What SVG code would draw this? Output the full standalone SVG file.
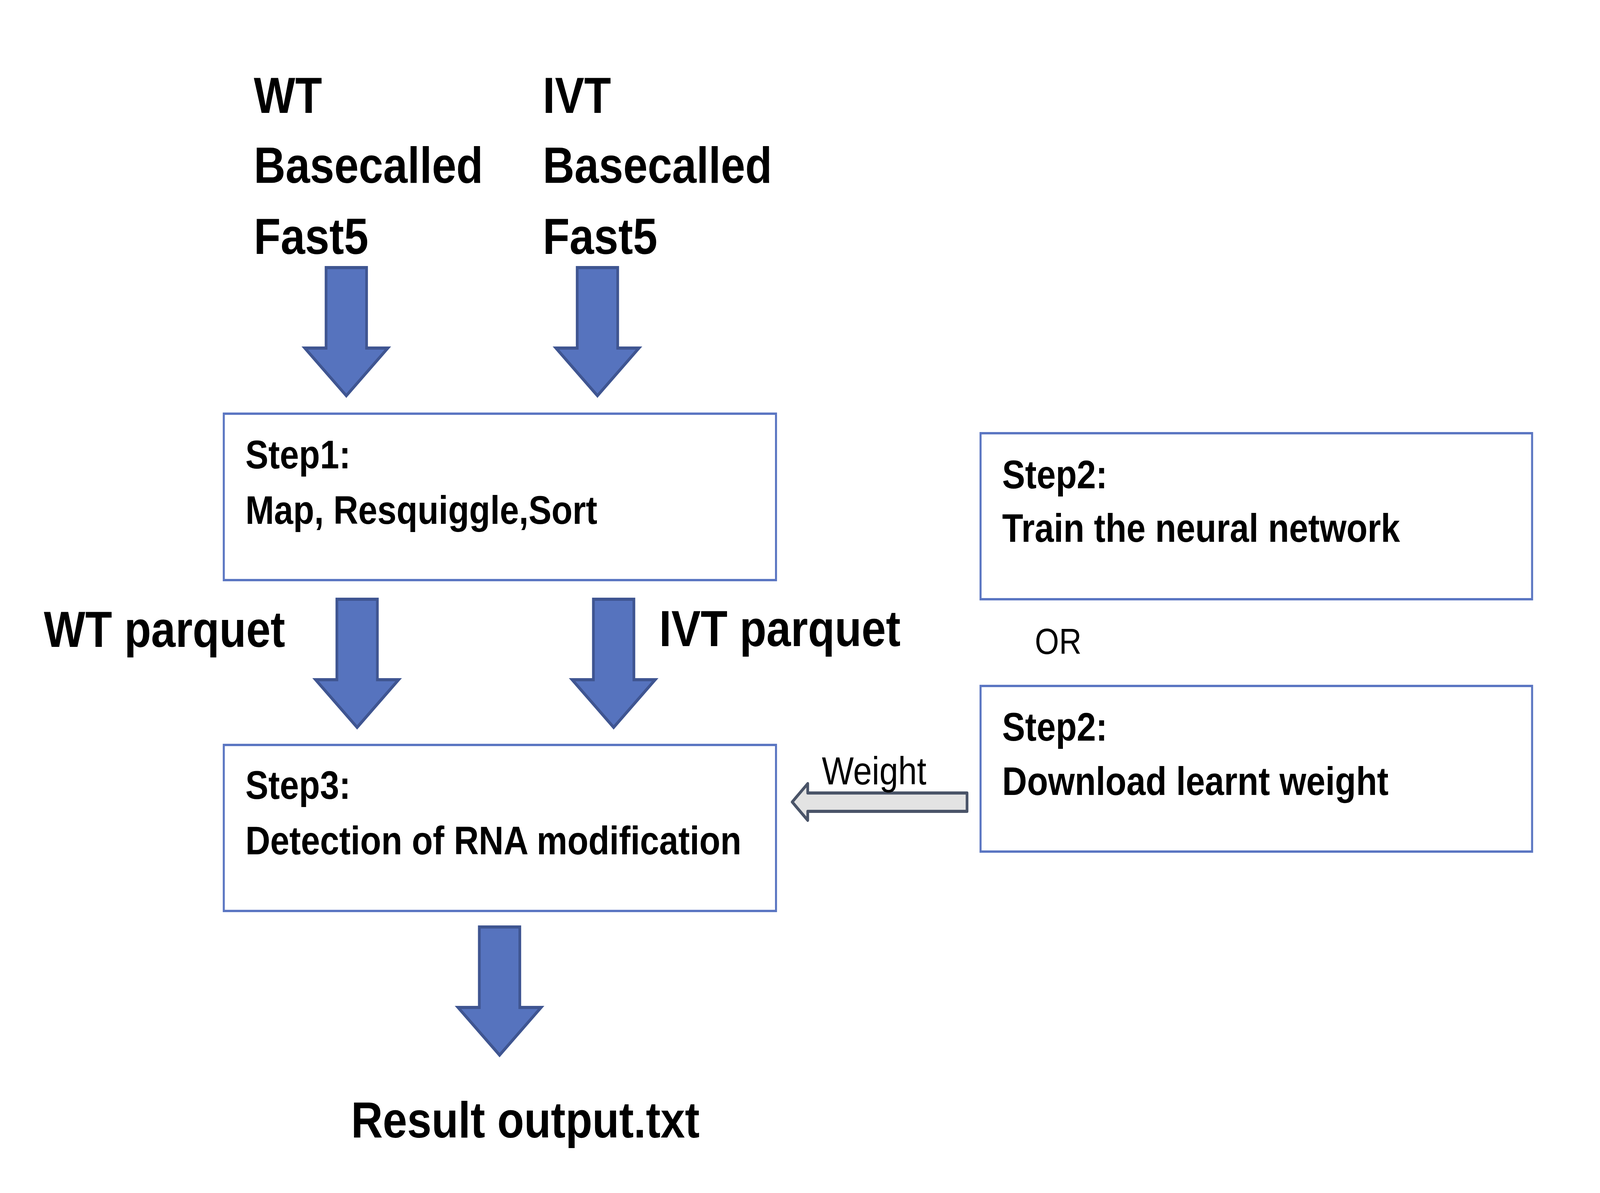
<svg xmlns="http://www.w3.org/2000/svg" xmlns:xlink="http://www.w3.org/1999/xlink" width="4740" height="3054" viewBox="0 0 4740 3054">
<style>
.bold{font-family:"Liberation Sans",Arial,sans-serif;font-weight:bold;fill:#000}
.reg{font-family:"Liberation Sans",Arial,sans-serif;font-weight:normal;fill:#000}
.box{fill:#fff;stroke:#5b76c2;stroke-width:6}
.blk{fill:#5673be;stroke:#3f5591;stroke-width:8;stroke-linejoin:miter}
.grey{fill:#e3e3e3;stroke:#4a5468;stroke-width:8;stroke-linejoin:round}
.big{font-size:130px}
.mid{font-size:102px}
</style>
<defs>
<path id="down" d="M-60,0 L60,0 L60,206 L123,206 L0,328 L-123,206 L-60,206 Z"/>
</defs>
<rect width="4740" height="3054" fill="#fff"/>
<g id="diagram" transform="scale(0.8641,1)">
<g id="wt-input">
<text class="bold big" x="752" y="289">WT</text>
<text class="bold big" x="752" y="468">Basecalled</text>
<text class="bold big" x="752" y="650">Fast5</text>
</g>
<g id="ivt-input">
<text class="bold big" x="1608" y="289">IVT</text>
<text class="bold big" x="1608" y="468">Basecalled</text>
<text class="bold big" x="1608" y="650">Fast5</text>
</g>
<g id="step1">
<rect class="box" x="663" y="1059" width="1636" height="426"/>
<text class="bold mid" x="727" y="1199">Step1:</text>
<text class="bold mid" x="727" y="1341">Map, Resquiggle,Sort</text>
</g>
<g id="step3">
<rect class="box" x="663" y="1907" width="1636" height="425"/>
<text class="bold mid" x="727" y="2045">Step3:</text>
<text class="bold mid" x="727" y="2187">Detection of RNA modification</text>
</g>
<g id="step2-train">
<rect class="box" x="2905" y="1109" width="1634" height="425"/>
<text class="bold mid" x="2969" y="1250">Step2:</text>
<text class="bold mid" x="2969" y="1387">Train the neural network</text>
</g>
<g id="or-label">
<text class="reg" font-size="92" x="3066" y="1674">OR</text>
</g>
<g id="step2-download">
<rect class="box" x="2905" y="1756" width="1634" height="424"/>
<text class="bold mid" x="2969" y="1896">Step2:</text>
<text class="bold mid" x="2969" y="2035">Download learnt weight</text>
</g>
<g id="wt-parquet">
<text class="bold big" x="130" y="1656">WT parquet</text>
</g>
<g id="ivt-parquet">
<text class="bold big" x="1953" y="1654">IVT parquet</text>
</g>
<g id="result">
<text class="bold big" x="1040" y="2912">Result output.txt</text>
</g>
<g id="connectors">
<use xlink:href="#down" class="blk" transform="translate(1026,685)"/>
<use xlink:href="#down" class="blk" transform="translate(1770,685)"/>
<use xlink:href="#down" class="blk" transform="translate(1058,1534)"/>
<use xlink:href="#down" class="blk" transform="translate(1818,1534)"/>
<use xlink:href="#down" class="blk" transform="translate(1480,2373)"/>
<polygon class="grey" points="2865,2030 2393,2030 2393,2006 2347,2053 2393,2100 2393,2077 2865,2077"/>
<text class="reg" font-size="100" x="2435" y="2008">Weight</text>
</g>
</g>
</svg>
